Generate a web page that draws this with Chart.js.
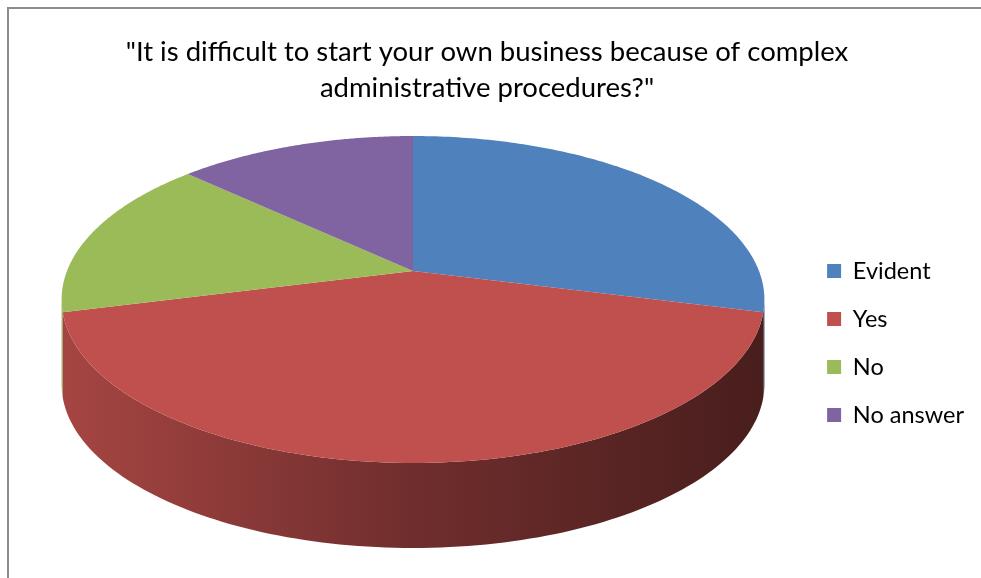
<!DOCTYPE html>
<html>
<head>
<meta charset="utf-8">
<script src="https://cdn.jsdelivr.net/npm/chart.js@4.4.0/dist/chart.umd.min.js"></script>
<style>
  html, body { margin: 0; padding: 0; background: #fff; }
  #wrap { width: 981px; height: 578px; }
</style>
</head>
<body>
<div id="wrap"><canvas id="pieChart" width="981" height="578"></canvas></div>
<script>
// Survey answers (percent)
const answerLabels = ['Evident', 'Yes', 'No', 'No answer'];
const answerValues = [29, 42, 16, 13];
const sliceColors = ['#4f81bd', '#c0504d', '#9bbb59', '#8064a2'];
const titleLines = ['"It is difficult to start your own business because of complex', 'administrative procedures?"'];

// 3D look of the pie (tilted disc seen in perspective)
const view = { cx: 413, cy: 271, rx: 346, ry: 158.5, persp: 0.1743, depth: 85 };

function hexToRgb(hex) {
    const n = parseInt(hex.slice(1), 16);
    return [(n >> 16) & 255, (n >> 8) & 255, n & 255];
}

function shade(hex, f) {
    const c = hexToRgb(hex).map(v => Math.round(v * f));
    return `rgb(${c[0]}, ${c[1]}, ${c[2]})`;
}

// canvas angle -> point on the projected rim
function rimPoint(a, drop) {
    const u = Math.cos(a), v = -Math.sin(a);
    const w = 1 + view.persp * v;
    return [view.cx + view.rx * u / w, view.cy - view.ry * v / w + (drop || 0)];
}

const frame = {
    id: 'frame',
    beforeDraw(chart) {
        const ctx = chart.ctx;
        ctx.save();
        ctx.strokeStyle = '#8c8c8c';
        ctx.lineWidth = 2;
        ctx.strokeRect(8, 8, chart.width + 20, chart.height + 20);
        ctx.restore();
    }
};

const pie3d = {
    id: 'pie3d',
    beforeDatasetsDraw(chart) {
        const ctx = chart.ctx;
        const arcs = chart.getDatasetMeta(0).data;
        const colors = chart.data.datasets[0].backgroundColor;
        const frontStart = Math.asin(view.persp);
        const frontEnd = Math.PI - frontStart;
        const steps = 120;

        // side walls first
        arcs.forEach((arc, i) => {
            const a0 = Math.max(arc.startAngle, frontStart);
            const a1 = Math.min(arc.endAngle, frontEnd);
            if (a1 <= a0) return;
            const grad = ctx.createLinearGradient(view.cx - view.rx, 0, view.cx + view.rx, 0);
            grad.addColorStop(0, shade(colors[i], 0.86));
            grad.addColorStop(0.5, shade(colors[i], 0.58));
            grad.addColorStop(1, shade(colors[i], 0.38));
            ctx.beginPath();
            for (let s = 0; s <= steps; s++) {
                const p = rimPoint(a0 + (a1 - a0) * s / steps, 0);
                s === 0 ? ctx.moveTo(p[0], p[1]) : ctx.lineTo(p[0], p[1]);
            }
            for (let s = steps; s >= 0; s--) {
                const p = rimPoint(a0 + (a1 - a0) * s / steps, view.depth);
                ctx.lineTo(p[0], p[1]);
            }
            ctx.closePath();
            ctx.fillStyle = grad;
            ctx.fill();
        });

        // top faces
        arcs.forEach((arc, i) => {
            ctx.beginPath();
            ctx.moveTo(view.cx, view.cy);
            for (let s = 0; s <= steps; s++) {
                const p = rimPoint(arc.startAngle + (arc.endAngle - arc.startAngle) * s / steps, 0);
                ctx.lineTo(p[0], p[1]);
            }
            ctx.closePath();
            ctx.fillStyle = colors[i];
            ctx.fill();
        });
        return false;
    }
};

new Chart(document.getElementById('pieChart'), {
    type: 'pie',
    data: {
        labels: answerLabels,
        datasets: [{
            data: answerValues,
            backgroundColor: sliceColors,
            borderWidth: 0
        }]
    },
    options: {
        responsive: false,
        animation: false,
        layout: {
            padding: { top: 0, right: 7, bottom: 0, left: 0 }
        },
        plugins: {
            title: {
                display: true,
                text: titleLines,
                color: '#000',
                font: { family: 'Lato', size: 27.5, weight: 'normal', lineHeight: 1.31 },
                padding: { top: 34, bottom: 8 }
            },
            legend: {
                position: 'right',
                title: {
                    display: true,
                    text: ' ',
                    font: { size: 10, lineHeight: 1.2 },
                    padding: 48
                },
                labels: {
                    color: '#000',
                    font: { family: 'Lato', size: 23.5 },
                    boxWidth: 14,
                    boxHeight: 14,
                    padding: 24.5
                }
            },
            tooltip: { enabled: false }
        }
    },
    plugins: [frame, pie3d]
});
</script>
</body>
</html>
